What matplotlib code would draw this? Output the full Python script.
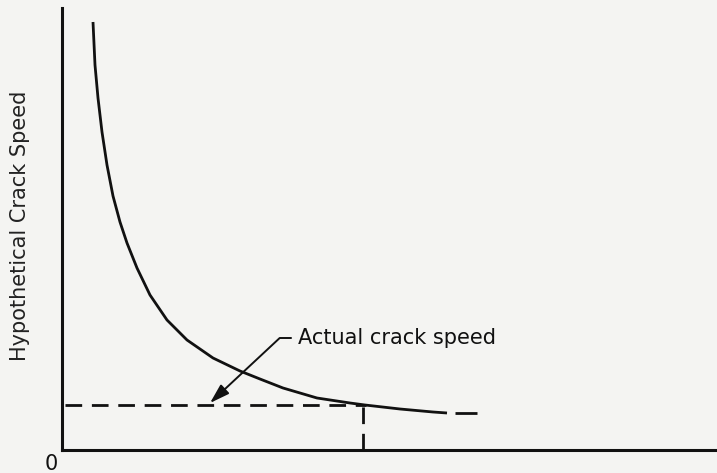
import matplotlib
matplotlib.use("Agg")
import matplotlib.pyplot as plt

# Values (abscissa / ordinate in chart units, origin at the axes corner)
curve_x = [31, 33, 36, 40, 45, 51, 58, 65, 75, 88, 105, 125, 151, 178, 198, 221, 255, 288, 303, 338, 371, 385]
curve_y = [428, 385, 352, 318, 285, 254, 228, 207, 182, 155, 130, 110, 92, 79, 71, 62, 52, 47, 45, 41, 38, 37]
tail_x = [393, 415]
tail_y = [37, 37]
actual_speed = 45
actual_x = 301
label_text = "Actual crack speed"
ylabel_text = "Hypothetical Crack Speed"
origin_label = "0"

W, H = 717, 473
fig = plt.figure(figsize=(W / 100, H / 100), dpi=100)
bg = "#f4f4f2"
fig.patch.set_facecolor(bg)
ax = fig.add_axes([62 / W, 23 / H, 655 / W, 442 / H])
ax.set_facecolor(bg)
ax.set_xlim(0, 655)
ax.set_ylim(0, 442)

ink = "#111111"
for s in ("top", "right"):
    ax.spines[s].set_visible(False)
for s in ("left", "bottom"):
    ax.spines[s].set_linewidth(2.2)
    ax.spines[s].set_color(ink)
ax.set_xticks([])
ax.set_yticks([])

ax.plot(curve_x, curve_y, color=ink, lw=2.0, solid_capstyle="butt",
        solid_joinstyle="round", clip_on=False)
ax.plot(tail_x, tail_y, color=ink, lw=2.0, solid_capstyle="butt")

ax.plot([3, actual_x + 3], [actual_speed, actual_speed], color=ink, lw=2.0,
        dashes=(6, 3.5), dash_capstyle="butt")
ax.plot([actual_x, actual_x], [0, actual_speed + 6], color=ink, lw=2.0,
        dashes=(6, 3.5), dash_capstyle="butt")

ax.annotate(label_text, xy=(148, actual_speed + 2), xytext=(236, 112),
            fontsize=15, family="DejaVu Sans", color=ink,
            ha="left", va="center",
            arrowprops=dict(arrowstyle="-|>,head_length=0.8,head_width=0.25",
                            color=ink, lw=1.4,
                            connectionstyle="angle,angleA=0,angleB=43,rad=0",
                            shrinkA=3, shrinkB=0))

fig.text(20 / W, 1 - 226 / H, ylabel_text, rotation=90, ha="center", va="center",
         fontsize=15, family="DejaVu Sans", color="#222222")
fig.text(51 / W, 1 - 464 / H, origin_label, ha="center", va="center",
         fontsize=15, family="DejaVu Sans", color=ink)

fig.savefig("out.png", dpi=100, facecolor=bg)
